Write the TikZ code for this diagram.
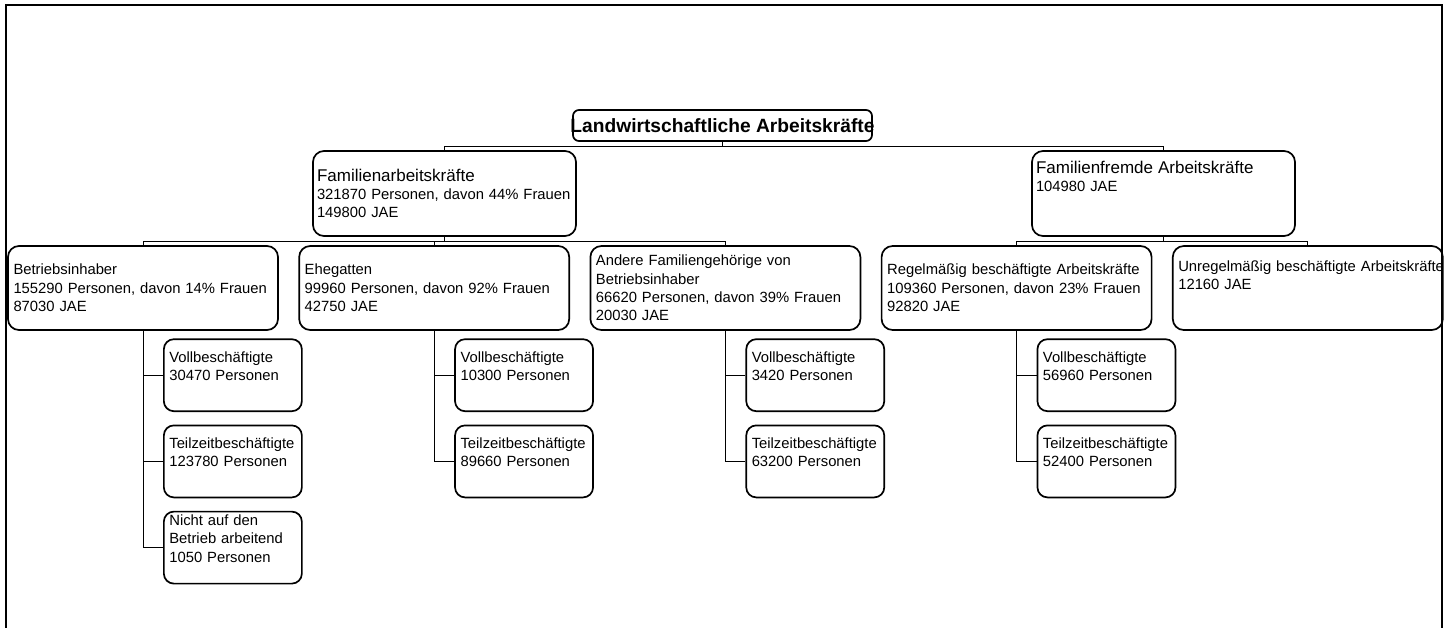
\documentclass[tikz,border=0pt]{standalone}
\usepackage{fontspec}
\setmainfont{Liberation Sans}
\usetikzlibrary{positioning}

\hyphenpenalty=10000
\exhyphenpenalty=10000
\newcommand{\padline}[1][0pt]{\\[#1]\mbox{}}

\begin{document}
\begin{tikzpicture}[
    x=1pt, y=-1pt,
    node distance=19.5pt,
    rootbox/.style={rectangle, draw, rounded corners=6pt, line width=1.7pt, inner sep=0pt, minimum width=299pt, minimum height=31pt, font=\bfseries\fontsize{19.2}{20}\selectfont},
    head/.style={rectangle, draw, rounded corners=11pt, line width=1.7pt, inner xsep=4pt, inner ysep=0pt, text width=255pt, minimum height=85pt, align=left, font=\fontsize{14.8}{18.3}\selectfont},
    block/.style={head, inner xsep=5.5pt, text width=259pt, minimum height=84pt},
    sub/.style={head, inner xsep=5.5pt, text width=127pt, minimum height=72pt, rounded corners=10pt},
    link/.style={line width=1pt},
    frame/.style={line width=2.4pt}
]
    \useasboundingbox (0,0) rectangle (1449,627);
    \clip (0,0) rectangle (1449,627);
    \draw[frame] (6,5) rectangle (1442,700);

    \node[rootbox] (total) at (722.5,125.5) {\makebox[299pt]{Landwirtschaftliche Arbeitskräfte}};

    \node[head] (fam) at (444.5,193.5) {\fontsize{17}{18.3}\selectfont Familienarbeitskräfte\\\fontsize{14.8}{18.3}\selectfont 321870~Personen,~davon~44\%~Frauen\\149800 JAE};
    \node[head] (fremd) at (1163.5,193.5) {\fontsize{17}{18.3}\selectfont Familienfremde Arbeitskräfte\\\fontsize{14.8}{18.3}\selectfont 104980 JAE\padline[16pt]};

    \node[block] (inh) at (143,288) {Betriebsinhaber\\155290 Personen, davon 14\% Frauen\\87030 JAE};
    \node[block, right=of inh] (ehe) {Ehegatten\\99960 Personen, davon 92\% Frauen\\42750 JAE};
    \node[block, right=of ehe] (andere) {Andere Familiengehörige von\\Betriebsinhaber\\66620 Personen, davon 39\% Frauen\\20030 JAE};
    \node[block, right=of andere] (reg) {Regelmäßig beschäftigte Arbeitskräfte\\109360 Personen, davon 23\% Frauen\\92820 JAE};
    \node[block, right=of reg] (unreg) {Unregelmäßig~beschäftigte~Arbeitskräfte\\12160 JAE\padline[8pt]};

    \node[sub, below right=7.5pt and 20pt of inh.south] (inhvoll) {Vollbeschäftigte\\30470 Personen\padline};
    \node[sub, below=12.5pt of inhvoll] (inhteil) {Teilzeitbeschäftigte\\123780 Personen\padline};
    \node[sub, below=12.5pt of inhteil] (inhnicht) {Nicht auf den\\Betrieb arbeitend\\1050 Personen\padline};

    \node[sub, below right=7.5pt and 20pt of ehe.south] (ehevoll) {Vollbeschäftigte\\10300 Personen\padline};
    \node[sub, below=12.5pt of ehevoll] (eheteil) {Teilzeitbeschäftigte\\89660 Personen\padline};

    \node[sub, below right=7.5pt and 20pt of andere.south] (andvoll) {Vollbeschäftigte\\3420 Personen\padline};
    \node[sub, below=12.5pt of andvoll] (andteil) {Teilzeitbeschäftigte\\63200 Personen\padline};

    \node[sub, below right=7.5pt and 20pt of reg.south] (regvoll) {Vollbeschäftigte\\56960 Personen\padline};
    \node[sub, below=12.5pt of regvoll] (regteil) {Teilzeitbeschäftigte\\52400 Personen\padline};

    % buses
    \draw[link] (total.south) -- ++(0pt,-5pt) -| (fam.north);
    \draw[link] (total.south) -- ++(0pt,-5pt) -| (fremd.north);

    \draw[link] (fam.south) -- ++(0pt,-4.5pt) -| (inh.north);
    \draw[link] (fam.south) -- ++(0pt,-4.5pt) -| (ehe.north);
    \draw[link] (fam.south) -- ++(0pt,-4.5pt) -| (andere.north);
    \draw[link] (fremd.south) -- ++(0pt,-4.5pt) -| (reg.north);
    \draw[link] (fremd.south) -- ++(0pt,-4.5pt) -| (unreg.north);

    \draw[link] (inh.south) |- (inhvoll.west);
    \draw[link] (inh.south) |- (inhteil.west);
    \draw[link] (inh.south) |- (inhnicht.west);
    \draw[link] (ehe.south) |- (ehevoll.west);
    \draw[link] (ehe.south) |- (eheteil.west);
    \draw[link] (andere.south) |- (andvoll.west);
    \draw[link] (andere.south) |- (andteil.west);
    \draw[link] (reg.south) |- (regvoll.west);
    \draw[link] (reg.south) |- (regteil.west);
\end{tikzpicture}
\end{document}
